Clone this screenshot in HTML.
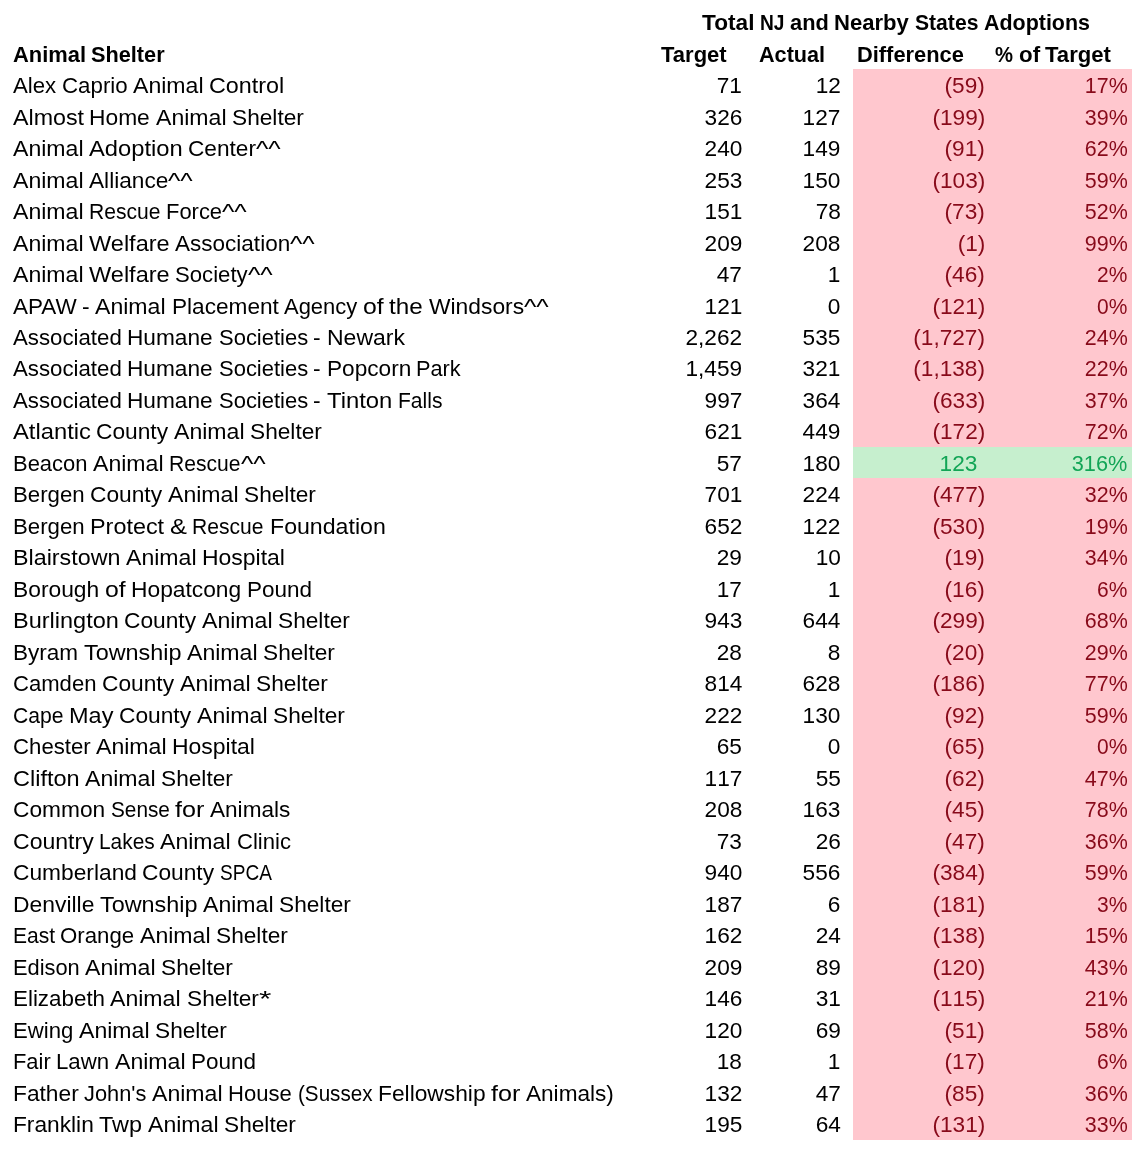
<!DOCTYPE html>
<html><head><meta charset="utf-8"><title>Animal Shelter Adoptions</title>
<style>
html,body{margin:0;padding:0;background:#fff}
body{width:1145px;height:1160px;position:relative;overflow:hidden;font-family:"Liberation Sans", sans-serif;font-size:22.4px;color:#000;font-variant-ligatures:none}
.pink{position:absolute;left:852.9px;top:68.6px;width:279.6px;height:1071px;background:#ffc7ce}
.green{position:absolute;left:852.9px;top:446.6px;width:279.6px;height:31.5px;background:#c6efce}
.t{position:absolute;display:inline-block;white-space:nowrap;line-height:31.5px;height:31.5px;margin-top:1.5px;transform-origin:0 0}
.n{transform-origin:100% 0;font-kerning:none}
.w{position:absolute;top:0;left:0;white-space:pre;transform-origin:0 0}
.b{font-weight:bold}
.r{color:#880a1a}
.g{color:#12a556}
</style></head><body>
<div class="pink"></div><div class="green"></div>
<span class="t b" style="top:5.60px;left:702.00px;width:387.8px"><span class="w" style="left:0.00px;transform:scaleX(1.0116)">Total </span><span class="w" style="left:58.02px;transform:scaleX(0.8558)">NJ </span><span class="w" style="left:88.10px;transform:scaleX(0.9741)">and </span><span class="w" style="left:132.47px;transform:scaleX(0.9850)">Nearby </span><span class="w" style="left:212.84px;transform:scaleX(0.9432)">States </span><span class="w" style="left:281.83px;transform:scaleX(0.9574)">Adoptions</span></span>
<span class="t b" style="top:37.10px;left:12.60px;width:152.3px"><span class="w" style="left:0.00px;transform:scaleX(0.9789)">Animal </span><span class="w" style="left:78.69px;transform:scaleX(0.9700)">Shelter</span></span>
<span class="t b" style="top:37.10px;left:661.30px;transform:scaleX(0.9838)">Target</span>
<span class="t b" style="top:37.10px;left:758.70px;transform:scaleX(0.9658)">Actual</span>
<span class="t b" style="top:37.10px;left:857.30px;transform:scaleX(0.9752)">Difference</span>
<span class="t b" style="top:37.10px;left:995.00px;width:116.2px"><span class="w" style="left:0.00px;transform:scaleX(0.9047)">% </span><span class="w" style="left:23.60px;transform:scaleX(0.9980)">of </span><span class="w" style="left:50.28px;transform:scaleX(0.9871)">Target</span></span>
<span class="t" style="top:68.60px;left:12.80px;width:271.5px"><span class="w" style="left:0.00px;transform:scaleX(0.9918)">Alex </span><span class="w" style="left:48.83px;transform:scaleX(0.9955)">Caprio </span><span class="w" style="left:120.12px;transform:scaleX(1.0310)">Animal </span><span class="w" style="left:196.33px;transform:scaleX(1.0416)">Control</span></span>
<span class="t n" style="top:68.60px;right:403.10px;transform:scaleX(1.0113)">71</span>
<span class="t n" style="top:68.60px;right:304.60px;transform:scaleX(1.0113)">12</span>
<span class="t r n" style="top:68.60px;right:159.80px;transform:scaleX(1.0106)">(59)</span>
<span class="t r n" style="top:68.60px;right:17.60px;transform:scaleX(0.9582)">17%</span>
<span class="t" style="top:100.08px;left:12.80px;width:291.2px"><span class="w" style="left:0.00px;transform:scaleX(1.0384)">Almost </span><span class="w" style="left:76.69px;transform:scaleX(1.0178)">Home </span><span class="w" style="left:143.11px;transform:scaleX(1.0310)">Animal </span><span class="w" style="left:219.31px;transform:scaleX(1.0130)">Shelter</span></span>
<span class="t n" style="top:100.08px;right:403.10px;transform:scaleX(1.0113)">326</span>
<span class="t n" style="top:100.08px;right:304.60px;transform:scaleX(1.0113)">127</span>
<span class="t r n" style="top:100.08px;right:159.80px;transform:scaleX(1.0108)">(199)</span>
<span class="t r n" style="top:100.08px;right:17.60px;transform:scaleX(0.9582)">39%</span>
<span class="t" style="top:131.57px;left:12.80px;width:268.4px"><span class="w" style="left:0.00px;transform:scaleX(1.0310)">Animal </span><span class="w" style="left:76.20px;transform:scaleX(1.0606)">Adoption </span><span class="w" style="left:175.59px;transform:scaleX(1.0119)">Center</span><span class="w" style="left:243.61px;transform:scaleX(1.1777)">^^</span></span>
<span class="t n" style="top:131.57px;right:403.10px;transform:scaleX(1.0113)">240</span>
<span class="t n" style="top:131.57px;right:304.60px;transform:scaleX(1.0113)">149</span>
<span class="t r n" style="top:131.57px;right:159.80px;transform:scaleX(1.0106)">(91)</span>
<span class="t r n" style="top:131.57px;right:17.60px;transform:scaleX(0.9582)">62%</span>
<span class="t" style="top:163.06px;left:12.80px;width:180.3px"><span class="w" style="left:0.00px;transform:scaleX(1.0310)">Animal </span><span class="w" style="left:76.20px;transform:scaleX(1.0114)">Alliance</span><span class="w" style="left:155.52px;transform:scaleX(1.1777)">^^</span></span>
<span class="t n" style="top:163.06px;right:403.10px;transform:scaleX(1.0113)">253</span>
<span class="t n" style="top:163.06px;right:304.60px;transform:scaleX(1.0113)">150</span>
<span class="t r n" style="top:163.06px;right:159.80px;transform:scaleX(1.0108)">(103)</span>
<span class="t r n" style="top:163.06px;right:17.60px;transform:scaleX(0.9582)">59%</span>
<span class="t" style="top:194.54px;left:12.80px;width:234.1px"><span class="w" style="left:0.00px;transform:scaleX(1.0310)">Animal </span><span class="w" style="left:76.20px;transform:scaleX(0.9418)">Rescue </span><span class="w" style="left:153.33px;transform:scaleX(0.9793)">Force</span><span class="w" style="left:209.38px;transform:scaleX(1.1777)">^^</span></span>
<span class="t n" style="top:194.54px;right:403.10px;transform:scaleX(1.0113)">151</span>
<span class="t n" style="top:194.54px;right:304.60px;transform:scaleX(1.0113)">78</span>
<span class="t r n" style="top:194.54px;right:159.80px;transform:scaleX(1.0106)">(73)</span>
<span class="t r n" style="top:194.54px;right:17.60px;transform:scaleX(0.9582)">52%</span>
<span class="t" style="top:226.03px;left:12.80px;width:302.5px"><span class="w" style="left:0.00px;transform:scaleX(1.0310)">Animal </span><span class="w" style="left:76.20px;transform:scaleX(1.0511)">Welfare </span><span class="w" style="left:162.50px;transform:scaleX(1.0060)">Association</span><span class="w" style="left:277.70px;transform:scaleX(1.1777)">^^</span></span>
<span class="t n" style="top:226.03px;right:403.10px;transform:scaleX(1.0113)">209</span>
<span class="t n" style="top:226.03px;right:304.60px;transform:scaleX(1.0113)">208</span>
<span class="t r n" style="top:226.03px;right:159.80px;transform:scaleX(1.0108)">(1)</span>
<span class="t r n" style="top:226.03px;right:17.60px;transform:scaleX(0.9582)">99%</span>
<span class="t" style="top:257.51px;left:12.80px;width:259.9px"><span class="w" style="left:0.00px;transform:scaleX(1.0310)">Animal </span><span class="w" style="left:76.20px;transform:scaleX(1.0511)">Welfare </span><span class="w" style="left:162.50px;transform:scaleX(0.9894)">Society</span><span class="w" style="left:235.16px;transform:scaleX(1.1777)">^^</span></span>
<span class="t n" style="top:257.51px;right:403.10px;transform:scaleX(1.0113)">47</span>
<span class="t n" style="top:257.51px;right:304.60px;transform:scaleX(1.0113)">1</span>
<span class="t r n" style="top:257.51px;right:159.80px;transform:scaleX(1.0106)">(46)</span>
<span class="t r n" style="top:257.51px;right:17.60px;transform:scaleX(0.9377)">2%</span>
<span class="t" style="top:289.00px;left:12.80px;width:535.7px"><span class="w" style="left:0.00px;transform:scaleX(1.0037)">APAW </span><span class="w" style="left:69.31px;transform:scaleX(1.0188)">- </span><span class="w" style="left:82.55px;transform:scaleX(1.0310)">Animal </span><span class="w" style="left:158.75px;transform:scaleX(1.0103)">Placement </span><span class="w" style="left:271.27px;transform:scaleX(0.9805)">Agency </span><span class="w" style="left:350.12px;transform:scaleX(1.1070)">of </span><span class="w" style="left:376.44px;transform:scaleX(1.0838)">the </span><span class="w" style="left:415.81px;transform:scaleX(1.0191)">Windsors</span><span class="w" style="left:510.92px;transform:scaleX(1.1777)">^^</span></span>
<span class="t n" style="top:289.00px;right:403.10px;transform:scaleX(1.0113)">121</span>
<span class="t n" style="top:289.00px;right:304.60px;transform:scaleX(1.0113)">0</span>
<span class="t r n" style="top:289.00px;right:159.80px;transform:scaleX(1.0108)">(121)</span>
<span class="t r n" style="top:289.00px;right:17.60px;transform:scaleX(0.9377)">0%</span>
<span class="t" style="top:320.48px;left:12.80px;width:391.8px"><span class="w" style="left:0.00px;transform:scaleX(0.9930)">Associated </span><span class="w" style="left:114.39px;transform:scaleX(1.0126)">Humane </span><span class="w" style="left:205.72px;transform:scaleX(0.9816)">Societies </span><span class="w" style="left:300.53px;transform:scaleX(1.0188)">- </span><span class="w" style="left:313.77px;transform:scaleX(1.0278)">Newark</span></span>
<span class="t n" style="top:320.48px;right:403.10px;transform:scaleX(1.0095)">2,262</span>
<span class="t n" style="top:320.48px;right:304.60px;transform:scaleX(1.0113)">535</span>
<span class="t r n" style="top:320.48px;right:159.80px;transform:scaleX(1.0097)">(1,727)</span>
<span class="t r n" style="top:320.48px;right:17.60px;transform:scaleX(0.9582)">24%</span>
<span class="t" style="top:351.97px;left:12.80px;width:448.4px"><span class="w" style="left:0.00px;transform:scaleX(0.9930)">Associated </span><span class="w" style="left:114.39px;transform:scaleX(1.0126)">Humane </span><span class="w" style="left:205.72px;transform:scaleX(0.9816)">Societies </span><span class="w" style="left:300.53px;transform:scaleX(1.0188)">- </span><span class="w" style="left:313.77px;transform:scaleX(1.0109)">Popcorn </span><span class="w" style="left:403.70px;transform:scaleX(0.9708)">Park</span></span>
<span class="t n" style="top:351.97px;right:403.10px;transform:scaleX(1.0095)">1,459</span>
<span class="t n" style="top:351.97px;right:304.60px;transform:scaleX(1.0113)">321</span>
<span class="t r n" style="top:351.97px;right:159.80px;transform:scaleX(1.0097)">(1,138)</span>
<span class="t r n" style="top:351.97px;right:17.60px;transform:scaleX(0.9582)">22%</span>
<span class="t" style="top:383.45px;left:12.80px;width:429.2px"><span class="w" style="left:0.00px;transform:scaleX(0.9930)">Associated </span><span class="w" style="left:114.39px;transform:scaleX(1.0126)">Humane </span><span class="w" style="left:205.72px;transform:scaleX(0.9816)">Societies </span><span class="w" style="left:300.53px;transform:scaleX(1.0188)">- </span><span class="w" style="left:313.77px;transform:scaleX(1.0641)">Tinton </span><span class="w" style="left:384.73px;transform:scaleX(0.9399)">Falls</span></span>
<span class="t n" style="top:383.45px;right:403.10px;transform:scaleX(1.0113)">997</span>
<span class="t n" style="top:383.45px;right:304.60px;transform:scaleX(1.0113)">364</span>
<span class="t r n" style="top:383.45px;right:159.80px;transform:scaleX(1.0108)">(633)</span>
<span class="t r n" style="top:383.45px;right:17.60px;transform:scaleX(0.9582)">37%</span>
<span class="t" style="top:414.93px;left:12.80px;width:309.2px"><span class="w" style="left:0.00px;transform:scaleX(1.0606)">Atlantic </span><span class="w" style="left:83.52px;transform:scaleX(1.0152)">County </span><span class="w" style="left:161.17px;transform:scaleX(1.0310)">Animal </span><span class="w" style="left:237.38px;transform:scaleX(1.0130)">Shelter</span></span>
<span class="t n" style="top:414.93px;right:403.10px;transform:scaleX(1.0113)">621</span>
<span class="t n" style="top:414.93px;right:304.60px;transform:scaleX(1.0113)">449</span>
<span class="t r n" style="top:414.93px;right:159.80px;transform:scaleX(1.0108)">(172)</span>
<span class="t r n" style="top:414.93px;right:17.60px;transform:scaleX(0.9582)">72%</span>
<span class="t" style="top:446.42px;left:12.80px;width:252.5px"><span class="w" style="left:0.00px;transform:scaleX(0.9800)">Beacon </span><span class="w" style="left:80.06px;transform:scaleX(1.0310)">Animal </span><span class="w" style="left:156.27px;transform:scaleX(0.9418)">Rescue</span><span class="w" style="left:227.77px;transform:scaleX(1.1777)">^^</span></span>
<span class="t n" style="top:446.42px;right:403.10px;transform:scaleX(1.0113)">57</span>
<span class="t n" style="top:446.42px;right:304.60px;transform:scaleX(1.0113)">180</span>
<span class="t g n" style="top:446.42px;right:167.35px;transform:scaleX(1.0113)">123</span>
<span class="t g n" style="top:446.42px;right:17.60px;transform:scaleX(0.9697)">316%</span>
<span class="t" style="top:477.90px;left:12.80px;width:303.0px"><span class="w" style="left:0.00px;transform:scaleX(0.9924)">Bergen </span><span class="w" style="left:77.28px;transform:scaleX(1.0152)">County </span><span class="w" style="left:154.94px;transform:scaleX(1.0310)">Animal </span><span class="w" style="left:231.14px;transform:scaleX(1.0130)">Shelter</span></span>
<span class="t n" style="top:477.90px;right:403.10px;transform:scaleX(1.0113)">701</span>
<span class="t n" style="top:477.90px;right:304.60px;transform:scaleX(1.0113)">224</span>
<span class="t r n" style="top:477.90px;right:159.80px;transform:scaleX(1.0108)">(477)</span>
<span class="t r n" style="top:477.90px;right:17.60px;transform:scaleX(0.9582)">32%</span>
<span class="t" style="top:509.39px;left:12.80px;width:372.5px"><span class="w" style="left:0.00px;transform:scaleX(0.9924)">Bergen </span><span class="w" style="left:77.28px;transform:scaleX(1.0447)">Protect </span><span class="w" style="left:157.02px;transform:scaleX(1.1349)">&amp; </span><span class="w" style="left:179.59px;transform:scaleX(0.9418)">Rescue </span><span class="w" style="left:256.72px;transform:scaleX(1.0332)">Foundation</span></span>
<span class="t n" style="top:509.39px;right:403.10px;transform:scaleX(1.0113)">652</span>
<span class="t n" style="top:509.39px;right:304.60px;transform:scaleX(1.0113)">122</span>
<span class="t r n" style="top:509.39px;right:159.80px;transform:scaleX(1.0108)">(530)</span>
<span class="t r n" style="top:509.39px;right:17.60px;transform:scaleX(0.9582)">19%</span>
<span class="t" style="top:540.88px;left:12.80px;width:272.2px"><span class="w" style="left:0.00px;transform:scaleX(1.0401)">Blairstown </span><span class="w" style="left:113.06px;transform:scaleX(1.0310)">Animal </span><span class="w" style="left:189.27px;transform:scaleX(1.0257)">Hospital</span></span>
<span class="t n" style="top:540.88px;right:403.10px;transform:scaleX(1.0113)">29</span>
<span class="t n" style="top:540.88px;right:304.60px;transform:scaleX(1.0113)">10</span>
<span class="t r n" style="top:540.88px;right:159.80px;transform:scaleX(1.0106)">(19)</span>
<span class="t r n" style="top:540.88px;right:17.60px;transform:scaleX(0.9582)">34%</span>
<span class="t" style="top:572.36px;left:12.80px;width:299.1px"><span class="w" style="left:0.00px;transform:scaleX(1.0181)">Borough </span><span class="w" style="left:91.81px;transform:scaleX(1.1070)">of </span><span class="w" style="left:118.12px;transform:scaleX(1.0176)">Hopatcong </span><span class="w" style="left:233.97px;transform:scaleX(1.0053)">Pound</span></span>
<span class="t n" style="top:572.36px;right:403.10px;transform:scaleX(1.0113)">17</span>
<span class="t n" style="top:572.36px;right:304.60px;transform:scaleX(1.0113)">1</span>
<span class="t r n" style="top:572.36px;right:159.80px;transform:scaleX(1.0106)">(16)</span>
<span class="t r n" style="top:572.36px;right:17.60px;transform:scaleX(0.9377)">6%</span>
<span class="t" style="top:603.85px;left:12.80px;width:337.2px"><span class="w" style="left:0.00px;transform:scaleX(1.0499)">Burlington </span><span class="w" style="left:111.48px;transform:scaleX(1.0152)">County </span><span class="w" style="left:189.14px;transform:scaleX(1.0310)">Animal </span><span class="w" style="left:265.34px;transform:scaleX(1.0130)">Shelter</span></span>
<span class="t n" style="top:603.85px;right:403.10px;transform:scaleX(1.0113)">943</span>
<span class="t n" style="top:603.85px;right:304.60px;transform:scaleX(1.0113)">644</span>
<span class="t r n" style="top:603.85px;right:159.80px;transform:scaleX(1.0108)">(299)</span>
<span class="t r n" style="top:603.85px;right:17.60px;transform:scaleX(0.9582)">68%</span>
<span class="t" style="top:635.33px;left:12.80px;width:322.0px"><span class="w" style="left:0.00px;transform:scaleX(1.0072)">Byram </span><span class="w" style="left:70.80px;transform:scaleX(1.0449)">Township </span><span class="w" style="left:173.97px;transform:scaleX(1.0310)">Animal </span><span class="w" style="left:250.17px;transform:scaleX(1.0130)">Shelter</span></span>
<span class="t n" style="top:635.33px;right:403.10px;transform:scaleX(1.0113)">28</span>
<span class="t n" style="top:635.33px;right:304.60px;transform:scaleX(1.0113)">8</span>
<span class="t r n" style="top:635.33px;right:159.80px;transform:scaleX(1.0106)">(20)</span>
<span class="t r n" style="top:635.33px;right:17.60px;transform:scaleX(0.9582)">29%</span>
<span class="t" style="top:666.82px;left:12.80px;width:314.8px"><span class="w" style="left:0.00px;transform:scaleX(0.9862)">Camden </span><span class="w" style="left:89.09px;transform:scaleX(1.0152)">County </span><span class="w" style="left:166.75px;transform:scaleX(1.0310)">Animal </span><span class="w" style="left:242.95px;transform:scaleX(1.0130)">Shelter</span></span>
<span class="t n" style="top:666.82px;right:403.10px;transform:scaleX(1.0113)">814</span>
<span class="t n" style="top:666.82px;right:304.60px;transform:scaleX(1.0113)">628</span>
<span class="t r n" style="top:666.82px;right:159.80px;transform:scaleX(1.0108)">(186)</span>
<span class="t r n" style="top:666.82px;right:17.60px;transform:scaleX(0.9582)">77%</span>
<span class="t" style="top:698.30px;left:12.80px;width:331.9px"><span class="w" style="left:0.00px;transform:scaleX(0.9445)">Cape </span><span class="w" style="left:56.19px;transform:scaleX(1.0491)">May </span><span class="w" style="left:106.20px;transform:scaleX(1.0152)">County </span><span class="w" style="left:183.86px;transform:scaleX(1.0310)">Animal </span><span class="w" style="left:260.06px;transform:scaleX(1.0130)">Shelter</span></span>
<span class="t n" style="top:698.30px;right:403.10px;transform:scaleX(1.0113)">222</span>
<span class="t n" style="top:698.30px;right:304.60px;transform:scaleX(1.0113)">130</span>
<span class="t r n" style="top:698.30px;right:159.80px;transform:scaleX(1.0106)">(92)</span>
<span class="t r n" style="top:698.30px;right:17.60px;transform:scaleX(0.9582)">59%</span>
<span class="t" style="top:729.78px;left:12.80px;width:242.5px"><span class="w" style="left:0.00px;transform:scaleX(0.9914)">Chester </span><span class="w" style="left:83.36px;transform:scaleX(1.0310)">Animal </span><span class="w" style="left:159.56px;transform:scaleX(1.0257)">Hospital</span></span>
<span class="t n" style="top:729.78px;right:403.10px;transform:scaleX(1.0113)">65</span>
<span class="t n" style="top:729.78px;right:304.60px;transform:scaleX(1.0113)">0</span>
<span class="t r n" style="top:729.78px;right:159.80px;transform:scaleX(1.0106)">(65)</span>
<span class="t r n" style="top:729.78px;right:17.60px;transform:scaleX(0.9377)">0%</span>
<span class="t" style="top:761.27px;left:12.80px;width:220.4px"><span class="w" style="left:0.00px;transform:scaleX(1.0512)">Clifton </span><span class="w" style="left:72.34px;transform:scaleX(1.0310)">Animal </span><span class="w" style="left:148.55px;transform:scaleX(1.0130)">Shelter</span></span>
<span class="t n" style="top:761.27px;right:403.10px;transform:scaleX(1.0113)">117</span>
<span class="t n" style="top:761.27px;right:304.60px;transform:scaleX(1.0113)">55</span>
<span class="t r n" style="top:761.27px;right:159.80px;transform:scaleX(1.0106)">(62)</span>
<span class="t r n" style="top:761.27px;right:17.60px;transform:scaleX(0.9582)">47%</span>
<span class="t" style="top:792.75px;left:12.80px;width:277.7px"><span class="w" style="left:0.00px;transform:scaleX(1.0150)">Common </span><span class="w" style="left:97.83px;transform:scaleX(0.9279)">Sense </span><span class="w" style="left:162.38px;transform:scaleX(1.1231)">for </span><span class="w" style="left:197.36px;transform:scaleX(1.0082)">Animals</span></span>
<span class="t n" style="top:792.75px;right:403.10px;transform:scaleX(1.0113)">208</span>
<span class="t n" style="top:792.75px;right:304.60px;transform:scaleX(1.0113)">163</span>
<span class="t r n" style="top:792.75px;right:159.80px;transform:scaleX(1.0106)">(45)</span>
<span class="t r n" style="top:792.75px;right:17.60px;transform:scaleX(0.9582)">78%</span>
<span class="t" style="top:824.24px;left:12.80px;width:277.8px"><span class="w" style="left:0.00px;transform:scaleX(1.0291)">Country </span><span class="w" style="left:86.31px;transform:scaleX(0.9325)">Lakes </span><span class="w" style="left:147.66px;transform:scaleX(1.0310)">Animal </span><span class="w" style="left:223.86px;transform:scaleX(0.9849)">Clinic</span></span>
<span class="t n" style="top:824.24px;right:403.10px;transform:scaleX(1.0113)">73</span>
<span class="t n" style="top:824.24px;right:304.60px;transform:scaleX(1.0113)">26</span>
<span class="t r n" style="top:824.24px;right:159.80px;transform:scaleX(1.0106)">(47)</span>
<span class="t r n" style="top:824.24px;right:17.60px;transform:scaleX(0.9582)">36%</span>
<span class="t" style="top:855.73px;left:12.80px;width:259.1px"><span class="w" style="left:0.00px;transform:scaleX(1.0161)">Cumberland </span><span class="w" style="left:129.56px;transform:scaleX(1.0152)">County </span><span class="w" style="left:207.22px;transform:scaleX(0.8506)">SPCA</span></span>
<span class="t n" style="top:855.73px;right:403.10px;transform:scaleX(1.0113)">940</span>
<span class="t n" style="top:855.73px;right:304.60px;transform:scaleX(1.0113)">556</span>
<span class="t r n" style="top:855.73px;right:159.80px;transform:scaleX(1.0108)">(384)</span>
<span class="t r n" style="top:855.73px;right:17.60px;transform:scaleX(0.9582)">59%</span>
<span class="t" style="top:887.21px;left:12.80px;width:338.3px"><span class="w" style="left:0.00px;transform:scaleX(1.0218)">Denville </span><span class="w" style="left:87.02px;transform:scaleX(1.0449)">Township </span><span class="w" style="left:190.19px;transform:scaleX(1.0310)">Animal </span><span class="w" style="left:266.39px;transform:scaleX(1.0130)">Shelter</span></span>
<span class="t n" style="top:887.21px;right:403.10px;transform:scaleX(1.0113)">187</span>
<span class="t n" style="top:887.21px;right:304.60px;transform:scaleX(1.0113)">6</span>
<span class="t r n" style="top:887.21px;right:159.80px;transform:scaleX(1.0108)">(181)</span>
<span class="t r n" style="top:887.21px;right:17.60px;transform:scaleX(0.9377)">3%</span>
<span class="t" style="top:918.70px;left:12.80px;width:275.5px"><span class="w" style="left:0.00px;transform:scaleX(0.9390)">East </span><span class="w" style="left:47.70px;transform:scaleX(0.9925)">Orange </span><span class="w" style="left:127.45px;transform:scaleX(1.0310)">Animal </span><span class="w" style="left:203.66px;transform:scaleX(1.0130)">Shelter</span></span>
<span class="t n" style="top:918.70px;right:403.10px;transform:scaleX(1.0113)">162</span>
<span class="t n" style="top:918.70px;right:304.60px;transform:scaleX(1.0113)">24</span>
<span class="t r n" style="top:918.70px;right:159.80px;transform:scaleX(1.0108)">(138)</span>
<span class="t r n" style="top:918.70px;right:17.60px;transform:scaleX(0.9582)">15%</span>
<span class="t" style="top:950.18px;left:12.80px;width:220.5px"><span class="w" style="left:0.00px;transform:scaleX(0.9751)">Edison </span><span class="w" style="left:72.39px;transform:scaleX(1.0310)">Animal </span><span class="w" style="left:148.59px;transform:scaleX(1.0130)">Shelter</span></span>
<span class="t n" style="top:950.18px;right:403.10px;transform:scaleX(1.0113)">209</span>
<span class="t n" style="top:950.18px;right:304.60px;transform:scaleX(1.0113)">89</span>
<span class="t r n" style="top:950.18px;right:159.80px;transform:scaleX(1.0108)">(120)</span>
<span class="t r n" style="top:950.18px;right:17.60px;transform:scaleX(0.9582)">43%</span>
<span class="t" style="top:981.66px;left:12.80px;width:258.1px"><span class="w" style="left:0.00px;transform:scaleX(0.9992)">Elizabeth </span><span class="w" style="left:97.67px;transform:scaleX(1.0310)">Animal </span><span class="w" style="left:173.88px;transform:scaleX(1.0130)">Shelter</span><span class="w" style="left:245.75px;transform:scaleX(1.4194)">*</span></span>
<span class="t n" style="top:981.66px;right:403.10px;transform:scaleX(1.0113)">146</span>
<span class="t n" style="top:981.66px;right:304.60px;transform:scaleX(1.0113)">31</span>
<span class="t r n" style="top:981.66px;right:159.80px;transform:scaleX(1.0108)">(115)</span>
<span class="t r n" style="top:981.66px;right:17.60px;transform:scaleX(0.9582)">21%</span>
<span class="t" style="top:1013.15px;left:12.80px;width:214.0px"><span class="w" style="left:0.00px;transform:scaleX(0.9895)">Ewing </span><span class="w" style="left:65.97px;transform:scaleX(1.0310)">Animal </span><span class="w" style="left:142.17px;transform:scaleX(1.0130)">Shelter</span></span>
<span class="t n" style="top:1013.15px;right:403.10px;transform:scaleX(1.0113)">120</span>
<span class="t n" style="top:1013.15px;right:304.60px;transform:scaleX(1.0113)">69</span>
<span class="t r n" style="top:1013.15px;right:159.80px;transform:scaleX(1.0106)">(51)</span>
<span class="t r n" style="top:1013.15px;right:17.60px;transform:scaleX(0.9582)">58%</span>
<span class="t" style="top:1044.63px;left:12.80px;width:243.4px"><span class="w" style="left:0.00px;transform:scaleX(0.9773)">Fair </span><span class="w" style="left:43.31px;transform:scaleX(0.9933)">Lawn </span><span class="w" style="left:102.11px;transform:scaleX(1.0310)">Animal </span><span class="w" style="left:178.31px;transform:scaleX(1.0053)">Pound</span></span>
<span class="t n" style="top:1044.63px;right:403.10px;transform:scaleX(1.0113)">18</span>
<span class="t n" style="top:1044.63px;right:304.60px;transform:scaleX(1.0113)">1</span>
<span class="t r n" style="top:1044.63px;right:159.80px;transform:scaleX(1.0106)">(17)</span>
<span class="t r n" style="top:1044.63px;right:17.60px;transform:scaleX(0.9377)">6%</span>
<span class="t" style="top:1076.12px;left:12.80px;width:601.0px"><span class="w" style="left:0.00px;transform:scaleX(1.0155)">Father </span><span class="w" style="left:71.34px;transform:scaleX(0.9734)">John's </span><span class="w" style="left:139.30px;transform:scaleX(1.0310)">Animal </span><span class="w" style="left:215.50px;transform:scaleX(0.9843)">House </span><span class="w" style="left:284.84px;transform:scaleX(0.9218)">(Sussex </span><span class="w" style="left:365.03px;transform:scaleX(1.0170)">Fellowship </span><span class="w" style="left:478.23px;transform:scaleX(1.1231)">for </span><span class="w" style="left:513.22px;transform:scaleX(1.0084)">Animals)</span></span>
<span class="t n" style="top:1076.12px;right:403.10px;transform:scaleX(1.0113)">132</span>
<span class="t n" style="top:1076.12px;right:304.60px;transform:scaleX(1.0113)">47</span>
<span class="t r n" style="top:1076.12px;right:159.80px;transform:scaleX(1.0106)">(85)</span>
<span class="t r n" style="top:1076.12px;right:17.60px;transform:scaleX(0.9582)">36%</span>
<span class="t" style="top:1107.60px;left:12.80px;width:283.0px"><span class="w" style="left:0.00px;transform:scaleX(1.0143)">Franklin </span><span class="w" style="left:86.41px;transform:scaleX(1.0449)">Twp </span><span class="w" style="left:134.95px;transform:scaleX(1.0310)">Animal </span><span class="w" style="left:211.16px;transform:scaleX(1.0130)">Shelter</span></span>
<span class="t n" style="top:1107.60px;right:403.10px;transform:scaleX(1.0113)">195</span>
<span class="t n" style="top:1107.60px;right:304.60px;transform:scaleX(1.0113)">64</span>
<span class="t r n" style="top:1107.60px;right:159.80px;transform:scaleX(1.0108)">(131)</span>
<span class="t r n" style="top:1107.60px;right:17.60px;transform:scaleX(0.9582)">33%</span>
</body></html>
